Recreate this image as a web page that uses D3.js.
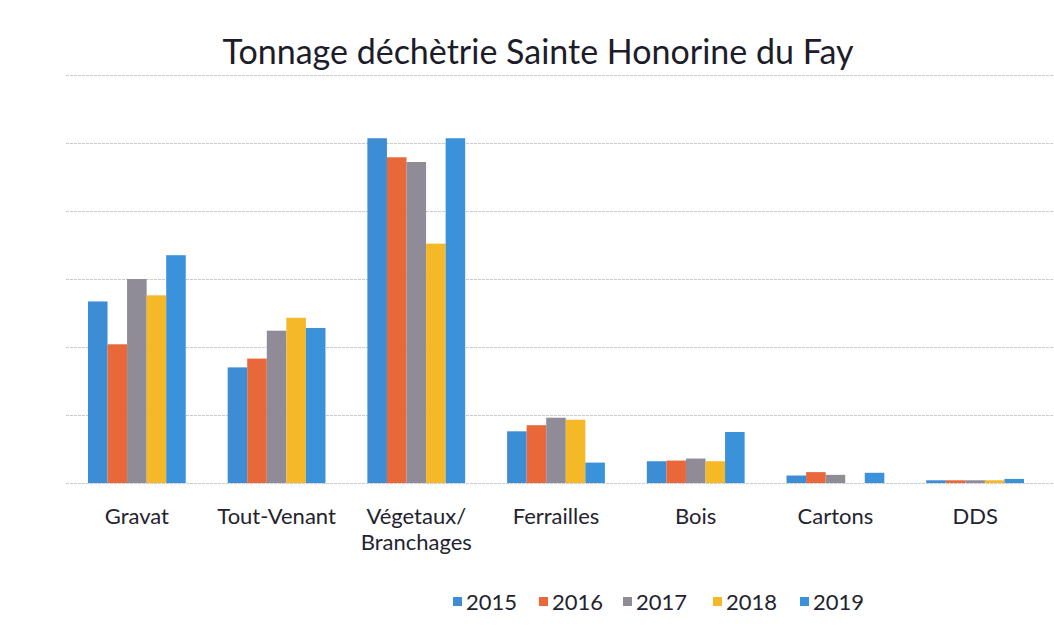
<!DOCTYPE html>
<html>
<head>
<meta charset="utf-8">
<script src="https://cdn.jsdelivr.net/npm/d3@7"></script>
<style>
  body { margin: 0; background: #fff; }
  text { font-family: Lato, "Open Sans", sans-serif; }
</style>
</head>
<body>
<div id="chart"></div>
<script>
// data (gridline step = 100)
var categories = ["Gravat", "Tout-Venant", "Végetaux/\nBranchages", "Ferrailles", "Bois", "Cartons", "DDS"];
var years = ["2015", "2016", "2017", "2018", "2019"];
var v2015 = [267, 170, 507, 76, 32, 11, 4];
var v2016 = [204, 183, 479, 85, 33, 16, 4];
var v2017 = [300, 224, 472, 96, 36, 12, 4];
var v2018 = [276, 243, 352, 93, 32, 0, 4];
var v2019 = [335, 228, 507, 30, 75, 15, 6];
var yTicks = [0, 100, 200, 300, 400, 500, 600];
var colors = ["#3d8dd4", "#e8683a", "#8f8b97", "#f5b928", "#3a92da"];

var series = [v2015, v2016, v2017, v2018, v2019];

var svgWidth = 1054;
var svgHeight = 643;

var svg = d3.select("#chart")
    .append("svg")
    .attr("width", svgWidth)
    .attr("height", svgHeight);

svg.append("rect")
    .attr("width", svgWidth)
    .attr("height", svgHeight)
    .attr("fill", "#fff");

// title
svg.append("text")
    .attr("x", 538)
    .attr("y", 64)
    .attr("text-anchor", "middle")
    .attr("font-size", 34)
    .attr("fill", "#1c1c2a")
    .text("Tonnage déchètrie Sainte Honorine du Fay");

// scales
var xScale = d3.scaleBand()
    .domain(categories)
    .range([67, 1045])
    .paddingInner(0.3)
    .paddingOuter(0.15);

var xInner = d3.scaleBand()
    .domain(years)
    .range([0, xScale.bandwidth()]);

var yScale = d3.scaleLinear()
    .domain([0, 600])
    .range([483, 75]);

// gridlines
svg.append("g")
    .selectAll("line")
    .data(yTicks)
    .enter()
    .append("line")
    .attr("x1", 66)
    .attr("x2", 1054)
    .attr("y1", d => yScale(d) + 0.5)
    .attr("y2", d => yScale(d) + 0.5)
    .attr("stroke", "#c9c9d3")
    .attr("stroke-width", 1)
    .attr("stroke-dasharray", "3,1");

// bars
var groups = svg.append("g")
    .selectAll("g")
    .data(series)
    .enter()
    .append("g")
    .attr("fill", (d, i) => colors[i]);

groups.selectAll("rect")
    .data((d, i) => d.map((v, j) => ({ year: years[i], cat: categories[j], value: v })))
    .enter()
    .append("rect")
    .attr("x", d => xScale(d.cat) + xInner(d.year))
    .attr("y", d => yScale(d.value))
    .attr("width", xInner.bandwidth())
    .attr("height", d => yScale(0) - yScale(d.value));

// category axis
var bottomAxis = d3.axisBottom(xScale).tickSize(0).tickPadding(0);
var xAxis = svg.append("g")
    .attr("transform", "translate(0,483)")
    .call(bottomAxis);
xAxis.select(".domain").remove();
xAxis.selectAll("text").remove();
xAxis.selectAll(".tick")
    .append("text")
    .attr("text-anchor", "middle")
    .attr("font-size", 22)
    .attr("fill", "#23232f")
    .selectAll("tspan")
    .data(d => d.split("\n"))
    .enter()
    .append("tspan")
    .attr("x", 0)
    .attr("y", (d, i) => 41 + i * 26)
    .text(d => d);

// legend
var legendX = [453, 539, 623, 713, 800];
var legend = svg.append("g")
    .selectAll("g")
    .data(years)
    .enter()
    .append("g")
    .attr("transform", (d, i) => `translate(${legendX[i]}, 610)`);

legend.append("rect")
    .attr("x", 0)
    .attr("y", -13)
    .attr("width", 9)
    .attr("height", 9)
    .attr("fill", (d, i) => colors[i]);

legend.append("text")
    .attr("x", 13)
    .attr("y", 0)
    .attr("font-size", 22)
    .attr("fill", "#23232f")
    .text(d => d);
</script>
</body>
</html>
